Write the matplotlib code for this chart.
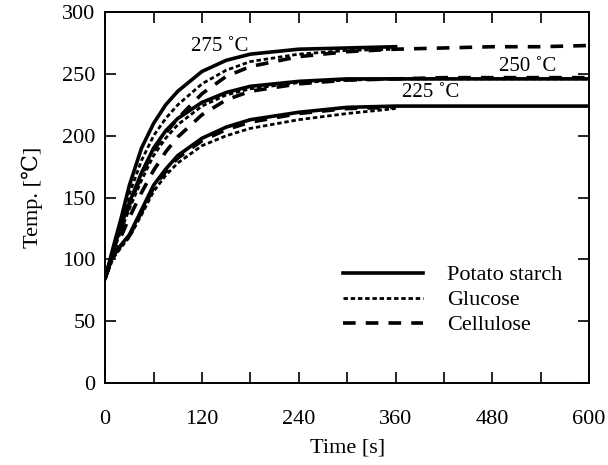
import matplotlib
matplotlib.use("Agg")
import matplotlib.pyplot as plt
from matplotlib.ticker import MultipleLocator, FuncFormatter

plt.rcParams['font.family'] = ['Liberation Serif', 'DejaVu Serif']

# time grid [s]
t = [0, 10, 20, 30, 45, 60, 75, 90, 120, 150, 180, 240, 300, 360, 420, 480, 540, 600]

# 225 °C set point
starch_225 = [85, 104, 112, 120, 140, 160, 173, 184, 198, 207, 213, 219, 223, 224, 224, 224, 224, 224]
glucose_225 = [85, 101, 110, 118, 136, 155, 168, 178, 192, 200, 206, 213, 218, 222]
cellulose_225 = [85, 103, 111, 119, 138, 158, 171, 182, 196, 205, 211, 218, 222, 223]

# 250 °C set point
starch_250 = [85, 108, 128, 146, 170, 190, 204, 214, 227, 235, 240, 244, 246, 246, 246, 246, 246, 246]
glucose_250 = [85, 106, 124, 141, 164, 184, 198, 209, 224, 233, 238, 243, 245, 246, 246, 246, 246, 246]
cellulose_250 = [85, 104, 119, 134, 154, 172, 187, 199, 217, 229, 236, 242, 245, 246, 247, 247, 247, 247]

# 275 °C set point
starch_275 = [85, 110, 134, 160, 190, 210, 225, 236, 252, 261, 266, 270, 271, 272]
glucose_275 = [85, 108, 130, 153, 180, 200, 214, 225, 242, 253, 260, 266, 269, 270]
cellulose_275 = [85, 106, 125, 144, 168, 188, 202, 214, 234, 248, 256, 264, 268, 270, 271, 272, 272, 273]

labels = ["Potato starch", "Glucose", "Cellulose"]
set_labels = ["275 \u02daC", "250 \u02daC", "225 \u02daC"]

fig = plt.figure(figsize=(6.08, 4.65), dpi=100)
ax = fig.add_axes([0.173, 0.176, 0.796, 0.798])

solid_kw = dict(color='black', lw=2.6, linestyle='-')
gluc_kw = dict(color='black', lw=2.0, linestyle=(0, (1.6, 1.0)))
cell_kw = dict(color='black', lw=2.6, linestyle=(0, (3.5, 2.8)))

for s, g, c in [(starch_225, glucose_225, cellulose_225),
                (starch_250, glucose_250, cellulose_250),
                (starch_275, glucose_275, cellulose_275)]:
    ax.plot(t[:len(c)], c, **cell_kw)
    ax.plot(t[:len(g)], g, **gluc_kw)
    ax.plot(t[:len(s)], s, **solid_kw)

ax.text(142, 272, set_labels[0], fontsize=15, ha='center', va='center')
ax.text(524, 256, set_labels[1], fontsize=15, ha='center', va='center')
ax.text(404, 235, set_labels[2], fontsize=15, ha='center', va='center')

h1, = ax.plot([], [], **solid_kw)
h2, = ax.plot([], [], **gluc_kw)
h3, = ax.plot([], [], **cell_kw)
ax.legend([h1, h2, h3], labels, loc='lower right', bbox_to_anchor=(0.972, 0.093),
          frameon=False, fontsize=16, handlelength=3.6, handletextpad=1.1,
          labelspacing=0.2, borderaxespad=0.2)

ax.set_xlim(0, 600)
ax.set_ylim(0, 300)
ax.xaxis.set_major_locator(MultipleLocator(60))
ax.xaxis.set_major_formatter(FuncFormatter(lambda v, p: f"{int(v)}" if int(round(v)) % 120 == 0 else ""))
ax.yaxis.set_major_locator(MultipleLocator(50))
ax.tick_params(direction='in', length=8, width=1.2, top=True, right=True,
               labelsize=16)
ax.tick_params(axis='x', pad=19)
ax.tick_params(axis='y', pad=7)
for sp in ax.spines.values():
    sp.set_linewidth(1.4)

ax.set_xlabel("Time [s]", fontsize=16, labelpad=7)
ax.set_ylabel("Temp. [\u2103]", fontsize=16, labelpad=14)

fig.savefig("out.png", dpi=100)
